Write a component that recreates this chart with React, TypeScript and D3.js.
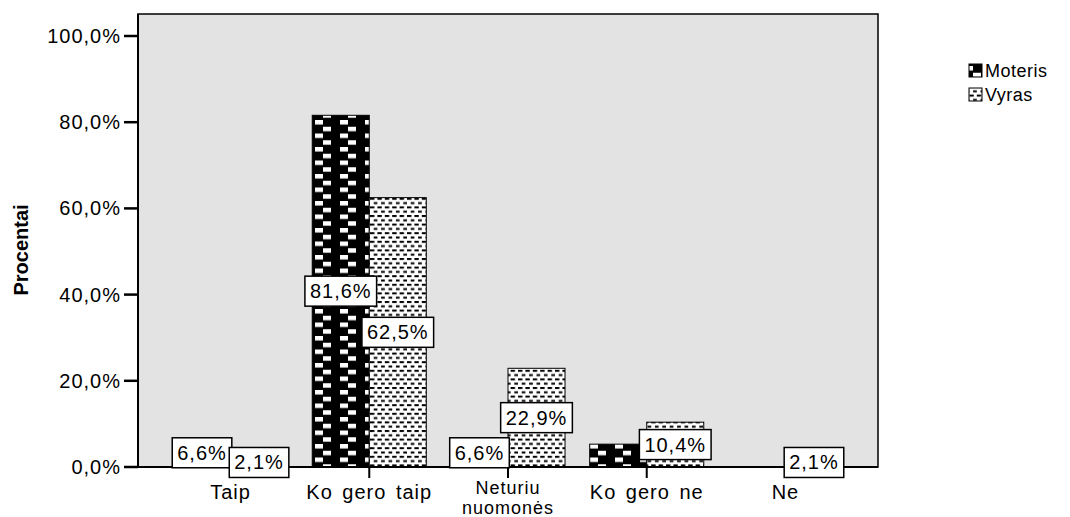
import React from "react";
import * as d3 from "d3";

const categories = ["Taip", "Ko gero taip", "Neturiu nuomonės", "Ko gero ne", "Ne"];
const seriesNames = ["Moteris", "Vyras"];
const moteris = [6.6, 81.6, 6.6, 5.3, 0];
const vyras = [2.1, 62.5, 22.9, 10.4, 2.1];
const moterisLabelShown = [true, true, true, false, false];
const vyrasLabelShown = [true, true, true, true, true];
const yTicks = [0, 20, 40, 60, 80, 100];

const W = 1070;
const H = 517;
const plot = { left: 138, right: 878, top: 14, bottom: 467 };
const FONT = "'Liberation Sans', Arial, sans-serif";

const charW: Record<string, number> = { ",": 0.278, "%": 0.889 };
function textWidth(s: string, size: number, ls: number) {
  let w = 0;
  for (const c of s) w += (charW[c] ?? 0.556) * size + ls;
  return w;
}
const fmt = (v: number) => v.toFixed(1).replace(".", ",") + "%";

export default function App() {
  const x = d3
    .scaleBand<string>()
    .domain(categories)
    .range([plot.left, plot.right])
    .paddingInner(0.178)
    .paddingOuter(0.256);
  const sub = d3.scaleBand<string>().domain(seriesNames).range([0, x.bandwidth()]);
  const y = d3.scaleLinear().domain([0, 100]).range([467, 36]);

  const series = [
    { name: "Moteris", values: moteris, shown: moterisLabelShown, fill: "url(#patM)" },
    { name: "Vyras", values: vyras, shown: vyrasLabelShown, fill: "url(#patV)" },
  ];

  const labelSize = 20;
  const labels: any[] = [];
  series.forEach((s) =>
    s.values.forEach((v, i) => {
      if (!s.shown[i]) return;
      const cx = (x(categories[i]) ?? 0) + (sub(s.name) ?? 0) + sub.bandwidth() / 2;
      const cy = (y(0) + y(v)) / 2;
      const t = fmt(v);
      const w = textWidth(t, labelSize, 1) + 10;
      labels.push({ key: s.name + i, cx, cy, t, w });
    })
  );

  return (
    <svg
      width={W}
      height={H}
      style={{ position: "absolute", left: 0, top: 0, background: "#fff" }}
      fontFamily={FONT}
    >
      <defs>
        <pattern id="patM" patternUnits="userSpaceOnUse" width={25} height={13.5} x={315} y={120}>
          <rect width={25} height={13.5} fill="#000" />
          <rect x={0} y={0} width={8} height={4.5} fill="#fff" />
          <rect x={8} y={6.75} width={8} height={4.5} fill="#fff" />
        </pattern>
        <pattern id="patV" patternUnits="userSpaceOnUse" width={7.4} height={8.6}>
          <rect width={7.4} height={8.6} fill="#fff" />
          <rect x={0} y={0} width={4.4} height={2} fill="#000" />
          <rect x={3.7} y={4.3} width={4.4} height={2} fill="#000" />
        </pattern>
      </defs>

      <rect
        x={plot.left}
        y={plot.top}
        width={plot.right - plot.left}
        height={plot.bottom - plot.top}
        fill="#e3e3e3"
        stroke="#000"
        strokeWidth={1.5}
      />

      {series.map((s) =>
        s.values.map((v, i) =>
          v > 0 ? (
            <rect
              key={s.name + i}
              x={(x(categories[i]) ?? 0) + (sub(s.name) ?? 0)}
              y={y(v)}
              width={sub.bandwidth()}
              height={y(0) - y(v)}
              fill={s.fill}
              stroke="#000"
              strokeWidth={1}
            />
          ) : null
        )
      )}

      <line x1={plot.left} x2={plot.left} y1={plot.top} y2={plot.bottom} stroke="#000" strokeWidth={2} />
      <line x1={plot.left} x2={plot.right} y1={plot.bottom} y2={plot.bottom} stroke="#000" strokeWidth={2} />

      {yTicks.map((t) => (
        <g key={t}>
          <line x1={124} x2={plot.left} y1={y(t)} y2={y(t)} stroke="#000" strokeWidth={2.5} />
          <text x={121} y={y(t) + 7} fontSize={20} letterSpacing={1} textAnchor="end" fill="#000">
            {fmt(t)}
          </text>
        </g>
      ))}

      {categories.map((c) => {
        const cx = (x(c) ?? 0) + x.bandwidth() / 2;
        const lines = c === "Neturiu nuomonės" ? ["Neturiu", "nuomonės"] : [c];
        const multi = lines.length > 1;
        return (
          <g key={c}>
            <line x1={cx} x2={cx} y1={plot.bottom} y2={478} stroke="#000" strokeWidth={2} />
            {lines.map((l, k) => (
              <text
                key={k}
                x={cx}
                y={multi ? 494 + k * 20 : 499}
                fontSize={multi ? 18 : 20}
                letterSpacing={1}
                wordSpacing={3}
                textAnchor="middle"
                fill="#000"
              >
                {l}
              </text>
            ))}
          </g>
        );
      })}

      <text
        transform="translate(28,250) rotate(-90)"
        fontSize={20}
        fontWeight="bold"
        textAnchor="middle"
        fill="#000"
      >
        Procentai
      </text>

      {labels.map((l) => (
        <g key={l.key}>
          <rect
            x={l.cx - l.w / 2}
            y={l.cy - 15}
            width={l.w}
            height={30}
            fill="#fff"
            stroke="#000"
            strokeWidth={1.5}
          />
          <text x={l.cx} y={l.cy + 7} fontSize={labelSize} letterSpacing={1} textAnchor="middle" fill="#000">
            {l.t}
          </text>
        </g>
      ))}

      {series.map((s, i) => (
        <g key={s.name}>
          <rect x={969} y={64 + i * 24} width={13} height={13} fill={s.fill} stroke="#000" strokeWidth={1} />
          <text x={985} y={77 + i * 24} fontSize={18} letterSpacing={0.5} fill="#000">
            {s.name}
          </text>
        </g>
      ))}
    </svg>
  );
}
